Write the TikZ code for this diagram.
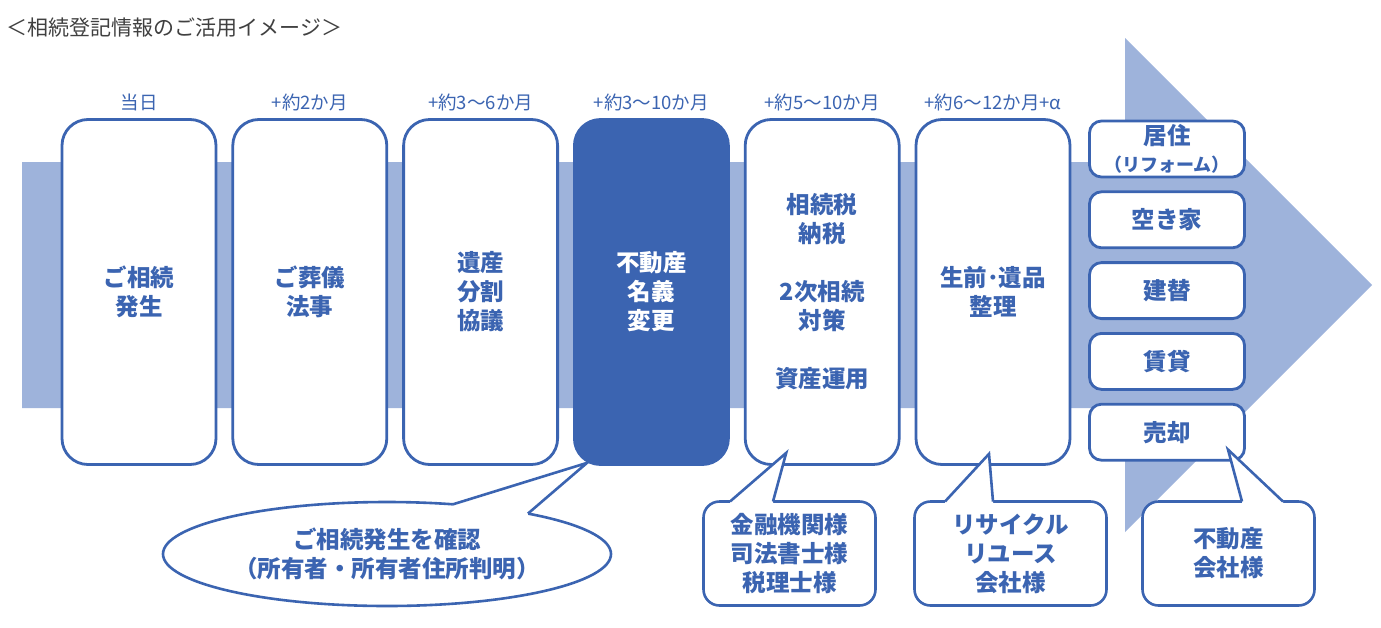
\documentclass[tikz,border=0pt]{standalone}
\usepackage{fontspec}
\setmainfont{Noto Sans CJK JP}
\usetikzlibrary{positioning,calc,shapes.geometric}
\definecolor{mainblue}{RGB}{59,100,177}
\definecolor{bandblue}{RGB}{158,179,219}
\definecolor{titlegray}{RGB}{64,64,64}

\begin{document}
\begin{tikzpicture}[x=1pt,y=-1pt]
    \newcommand{\stagegap}[0]{ 14pt }
    \newcommand{\calloutpointer}[3]{
      \fill[white] (#1) -- (#2) -- (#3) -- ($(#3)+(0,3)$) -- ($(#1)+(0,3)$) -- cycle;
      \draw[pointer] (#1) -- (#2) -- (#3);
    }
    \tikzstyle{pointer}=[draw=mainblue,line width=2.6pt,line join=miter]
    \tikzstyle{heading}=[
      anchor=west,
      text=titlegray,
      font=\fontsize{21}{24}\selectfont
    ]
    \tikzstyle{period}=[
      text=mainblue,
      inner sep=2pt,
      font=\fontsize{18.5}{21}\selectfont
    ]
    \tikzstyle{stage}=[
      draw=mainblue,
      fill=white,
      line width=2.8pt,
      rounded corners=26pt,
      minimum width=154pt,
      minimum height=345pt,
      inner sep=0pt,
      align=center,
      text=mainblue,
      font=\fontsize{23.5}{29}\selectfont\bfseries
    ]
    \tikzstyle{current}=[stage,fill=mainblue,text=white]
    \tikzstyle{option}=[
      draw=mainblue,
      fill=white,
      line width=2.8pt,
      rounded corners=12pt,
      minimum width=155pt,
      minimum height=56pt,
      inner sep=0pt,
      align=center,
      text=mainblue,
      font=\fontsize{23.5}{27}\selectfont\bfseries
    ]
    \tikzstyle{bubble}=[
      draw=mainblue,
      fill=white,
      line width=2.6pt,
      rounded corners=16pt,
      outer sep=0pt,
      minimum width=172pt,
      minimum height=104pt,
      inner sep=0pt,
      align=center,
      text=mainblue,
      font=\fontsize{23.5}{29}\selectfont\bfseries
    ]
    \tikzstyle{oval}=[
      bubble,
      ellipse,
      rounded corners=0pt,
      minimum width=448pt,
      minimum height=104pt
    ]

    \useasboundingbox (0,0) rectangle (1381,627);

    \fill[bandblue] (22,162) -- (1125,162) -- (1125,38) -- (1372,285)
      -- (1125,532) -- (1125,408) -- (22,408) -- cycle;

    \node[heading] (title) at (3,28) {＜相続登記情報のご活用イメージ＞};

    \node[stage] (occur) at (139,292) {ご相続\\発生};
    \node[stage,right=\stagegap of occur] (funeral) {ご葬儀\\法事};
    \node[stage,right=\stagegap of funeral] (division) {遺産\\分割\\協議};
    \node[current,right=\stagegap of division] (transfer) {不動産\\名義\\変更};
    \node[stage,right=\stagegap of transfer] (tax) {相続税\\納税\\[29pt]2次相続\\対策\\[29pt]資産運用};
    \node[stage,right=\stagegap of tax] (estate) {生前･遺品\\整理};

    \node[period,above=5pt of occur] (occur period) {当日};
    \node[period,above=5pt of funeral] (funeral period) {+約2か月};
    \node[period,above=5pt of division] (division period) {+約3〜6か月};
    \node[period,above=5pt of transfer] (transfer period) {+約3〜10か月};
    \node[period,above=5pt of tax] (tax period) {+約5〜10か月};
    \node[period,above=5pt of estate] (estate period) {+約6〜12か月+α};

    \node[option] (living) at (1167,149) {居住\\{\fontsize{18}{22}\selectfont（リフォーム）}};
    \node[option,below=12pt of living] (vacant) {空き家};
    \node[option,below=12pt of vacant] (rebuild) {建替};
    \node[option,below=12pt of rebuild] (rental) {賃貸};
    \node[option,below=12pt of rental] (sale) {売却};

    \node[oval] (confirm bubble) at (387,554) {ご相続発生を確認\\（所有者・所有者住所判明）};
    \node[bubble] (finance bubble) at (789.5,553.5) {金融機関様\\司法書士様\\税理士様};
    \node[bubble,minimum width=192pt] (recycle bubble) at (1010.5,553.5) {リサイクル\\リユース\\会社様};
    \node[bubble] (realtor bubble) at (1228.5,553.5) {不動産\\会社様};

    \coordinate (confirm tip) at ($(transfer.south west)+(14,-3)$);
    \coordinate (finance tip) at ($(tax.south)+(-36,-13)$);
    \coordinate (recycle tip) at ($(estate.south)+(-4,-12)$);
    \coordinate (realtor tip) at ($(sale.south)+(61,-12)$);

    \calloutpointer{confirm bubble.37.7}{confirm tip}{confirm bubble.16}
    \calloutpointer{$(finance bubble.north)+(-59.5,0)$}{finance tip}{$(finance bubble.north)+(-16.5,0)$}
    \calloutpointer{$(recycle bubble.north)+(-65.5,0)$}{recycle tip}{$(recycle bubble.north)+(-17.5,0)$}
    \calloutpointer{$(realtor bubble.north)+(13.5,0)$}{realtor tip}{$(realtor bubble.north)+(54.5,0)$}
  \end{tikzpicture}
\end{document}
